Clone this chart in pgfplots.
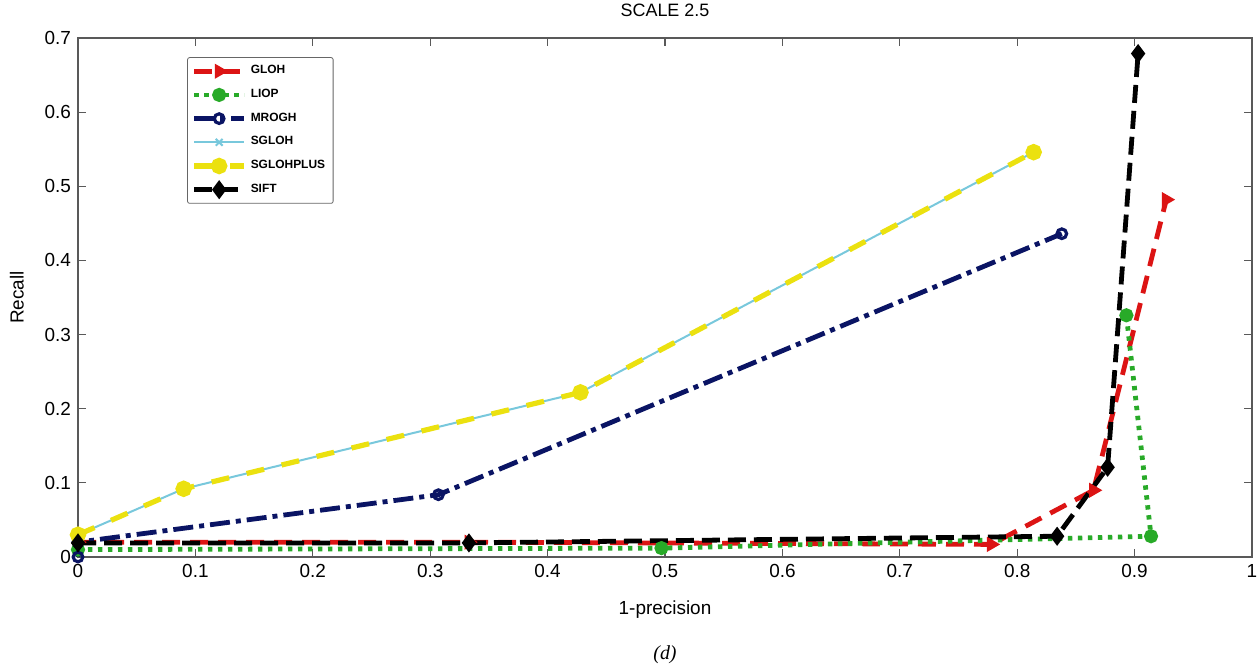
\documentclass[border=0pt]{standalone}
\usepackage{fontspec}
\setmainfont{Liberation Sans}
\newfontfamily\captionserif{Liberation Serif}
\usepackage{pgfplots}
\pgfplotsset{compat=1.18}
\usetikzlibrary{plotmarks}

\definecolor{glohred}{RGB}{220,20,20}
\definecolor{liopgreen}{RGB}{40,170,40}
\definecolor{mroghblue}{RGB}{10,20,100}
\definecolor{sglohcyan}{RGB}{120,200,220}
\definecolor{plusyellow}{RGB}{235,225,15}

\begin{document}
\begin{tikzpicture}
\useasboundingbox (0,0) rectangle (628.5bp,335bp);
\begin{axis}[
  at={(39bp,56.5bp)}, anchor=south west,
  width=587bp, height=259.5bp, scale only axis,
  xmin=0, xmax=1, ymin=0, ymax=0.7,
  xtick={0,0.1,...,1}, ytick={0,0.1,...,0.7},
  xticklabels={0,0.1,0.2,0.3,0.4,0.5,0.6,0.7,0.8,0.9,1},
  yticklabels={0,0.1,0.2,0.3,0.4,0.5,0.6,0.7},
  tick align=inside, major tick length=4bp,
  axis line style={black!65, line width=0.8pt},
  every tick/.style={black!65, line width=0.6pt},
  tick label style={font=\fontsize{9.5}{11}\selectfont},
  /pgf/number format/assume math mode=true,
  title={SCALE 2.5},
  title style={font=\fontsize{9}{11}\selectfont, at={(0.5,1)}, anchor=south, yshift=1bp},
  xlabel={1-precision},
  xlabel style={font=\fontsize{9.5}{11}\selectfont, at={(axis description cs:0.5,-0.102)}, anchor=center},
  ylabel={Recall},
  ylabel style={font=\fontsize{9.5}{11}\selectfont, at={(axis description cs:-0.052,0.5)}, anchor=center},
  legend style={at={(0.093,0.963)}, anchor=north west, draw=black!60,
    rounded corners=1pt, inner sep=2pt,
    font=\bfseries\fontsize{6}{7}\selectfont, row sep=2.2pt,
    cells={anchor=west}},
  legend image code/.code={\draw[mark repeat=2, mark phase=2, #1]
    plot coordinates {(0bp,0bp) (12.5bp,0bp) (25bp,0bp)};},
  clip=false,
]
% GLOH
\addplot[glohred, line width=2.4bp, dash pattern=on 9bp off 5bp,
  mark=triangle*, mark size=2bp, mark options={solid, rotate=-90}]
  coordinates {(0,0.02) (0.333,0.02) (0.778,0.017) (0.865,0.09) (0.927,0.482)};
\addlegendentry{GLOH}
% LIOP
\addplot[liopgreen, line width=2.4bp, dash pattern=on 2.2bp off 2.8bp,
  mark=*, mark size=2.3bp, mark options={solid}]
  coordinates {(0,0.01) (0.497,0.012) (0.914,0.028) (0.893,0.326)};
\addlegendentry{LIOP}
% MROGH
\addplot[mroghblue, line width=2.4bp, dash pattern=on 10bp off 3bp on 2.5bp off 3bp,
  mark=o, mark size=2.4bp, mark options={solid, line width=1.6bp}]
  coordinates {(0,0) (0,0.02) (0.307,0.084) (0.838,0.436)};
\addlegendentry{MROGH}
% SGLOH
\addplot[sglohcyan, line width=1bp, mark=x, mark size=2.4bp, mark options={solid}]
  coordinates {(0,0.03) (0.09,0.092) (0.428,0.222) (0.814,0.546)};
\addlegendentry{SGLOH}
% SGLOHPLUS
\addplot[plusyellow, line width=2.6bp, dash pattern=on 9bp off 9bp,
  mark=*, mark size=2.8bp, mark options={solid}]
  coordinates {(0,0.03) (0.09,0.092) (0.428,0.222) (0.814,0.546)};
\addlegendentry{SGLOHPLUS}
% SIFT
\addplot[black, line width=2.4bp, dash pattern=on 9bp off 4bp,
  mark=diamond*, mark size=2.8bp, mark options={solid}]
  coordinates {(0,0.019) (0.333,0.019) (0.834,0.028) (0.877,0.121) (0.903,0.679)};
\addlegendentry{SIFT}
\node[font=\captionserif\itshape\fontsize{10}{12}\selectfont, anchor=center]
  at (rel axis cs:0.5,0) [yshift=-49bp] {(d)};
\end{axis}
\end{tikzpicture}
\end{document}
